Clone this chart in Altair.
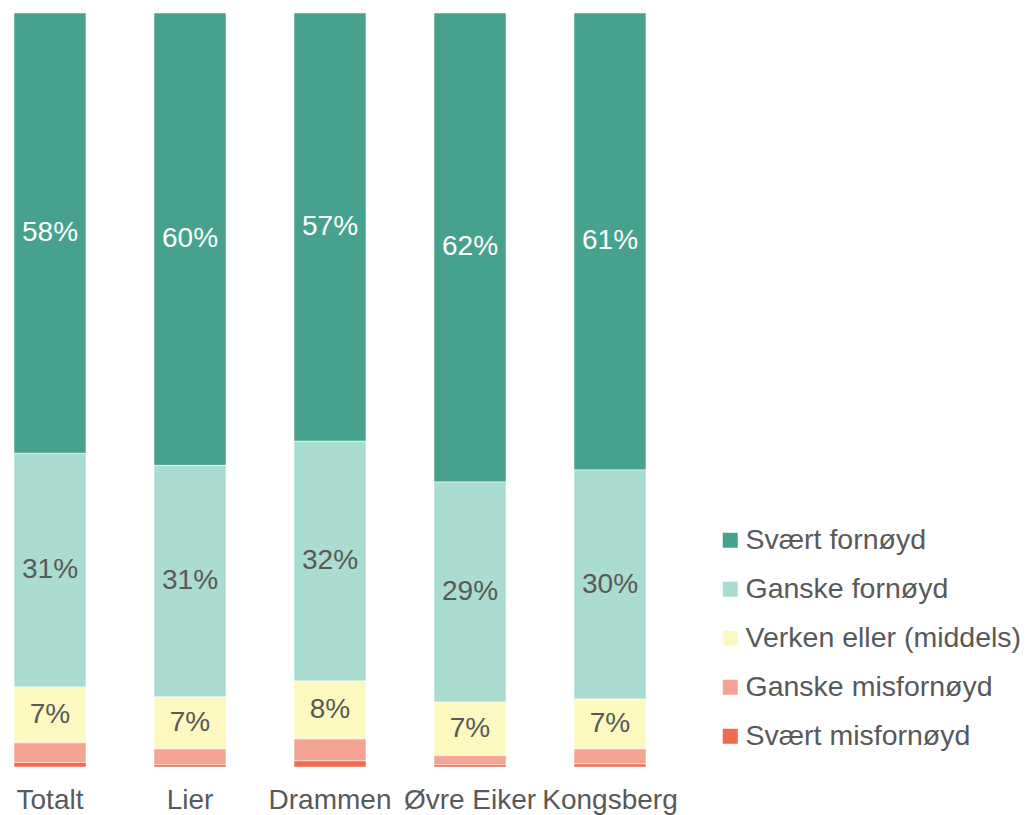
import altair as alt
import pandas as pd

kommuner = ["Totalt", "Lier", "Drammen", "Øvre Eiker", "Kongsberg"]
kategorier = ["Svært fornøyd", "Ganske fornøyd", "Verken eller (middels)",
              "Ganske misfornøyd", "Svært misfornøyd"]
farger = ["#46A28E", "#AADCD1", "#FCF8C0", "#F5A493", "#EF6A4E"]

svaert_fornoyd = [58.4, 60.0, 56.8, 62.2, 60.6]
ganske_fornoyd = [31.0, 30.7, 31.8, 29.2, 30.4]
verken_eller = [7.4, 6.9, 7.7, 7.1, 6.6]
ganske_misfornoyd = [2.6, 2.1, 2.9, 1.2, 2.0]
svaert_misfornoyd = [0.6, 0.3, 0.8, 0.3, 0.4]

serier = [svaert_fornoyd, ganske_fornoyd, verken_eller, ganske_misfornoyd, svaert_misfornoyd]
rows = []
for ci, (kat, vals) in enumerate(zip(kategorier, serier)):
    for k, v in zip(kommuner, vals):
        rows.append({"kommune": k, "kat": kat, "ord": ci, "value": v})
df = pd.DataFrame(rows)

TEXT = "#595959"
FONT = "Liberation Sans"

base = alt.Chart(df).transform_stack(
    stack="value", groupby=["kommune"], as_=["y0", "y1"],
    sort=[alt.SortField("ord", order="descending")]
).transform_calculate(
    mid="(datum.y0 + datum.y1) / 2",
    label="format(datum.value, '.0f') + '%'"
)

xenc = alt.X("kommune:N", sort=kommuner,
             scale=alt.Scale(paddingInner=0.486, paddingOuter=0.043),
             axis=alt.Axis(title=None, labelAngle=0, ticks=False, domain=False,
                           labelFontSize=28, labelColor=TEXT, labelFont=FONT,
                           labelPadding=19))

bars = base.mark_bar(stroke="white", strokeWidth=0.5).encode(
    x=xenc,
    y=alt.Y("y0:Q", scale=alt.Scale(domain=[0, 100]), axis=None),
    y2="y1:Q",
    color=alt.Color("kat:N", scale=alt.Scale(domain=kategorier, range=farger),
                    legend=alt.Legend(title=None, orient="none", legendX=708, legendY=513,
                                      symbolType="square", symbolSize=225,
                                      symbolStrokeWidth=0, labelFontSize=28.5,
                                      labelColor=TEXT, labelFont=FONT, labelLimit=0,
                                      labelOffset=1, rowPadding=20, padding=0)),
)

text = base.transform_filter("datum.value >= 5").mark_text(
    fontSize=28, font=FONT, baseline="middle", align="center"
).encode(
    x=alt.X("kommune:N", sort=kommuner),
    y=alt.Y("mid:Q", scale=alt.Scale(domain=[0, 100]), axis=None),
    text="label:N",
    color=alt.condition("datum.kat == 'Svært fornøyd'", alt.value("white"), alt.value(TEXT)),
)

chart = alt.layer(bars, text).properties(
    width=644, height=754,
    autosize=alt.AutoSizeParams(type="none"),
    padding={"left": 0, "top": 5, "right": 372, "bottom": 48},
).configure_view(stroke=None)

chart.save("out.html", embed_options={"renderer": "svg", "actions": False})
